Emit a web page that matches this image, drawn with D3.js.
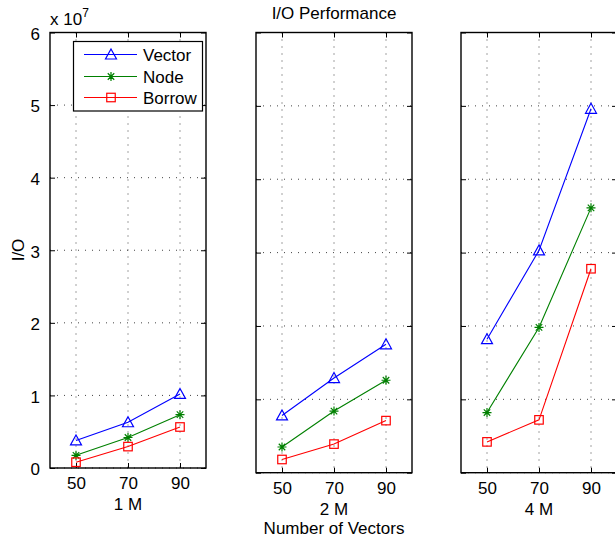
<!DOCTYPE html>
<html><head><meta charset="utf-8">
<script src="https://cdn.jsdelivr.net/npm/d3@7"></script>
<style>
body{margin:0;background:#fff;}
svg{display:block;font-family:"Liberation Sans",Arial,Helvetica,sans-serif;}
</style></head>
<body>
<svg id="c" width="615" height="538"></svg>
<script>
// Data (I/O in units of 10^7)
const xValues = [50, 70, 90];
const xTicks = [50, 70, 90];
const yTicks = [0, 1, 2, 3, 4, 5, 6];
const panelLabels = ["1 M", "2 M", "4 M"];
const seriesNames = ["Vector", "Node", "Borrow"];
const vector1M = [0.38, 0.63, 1.02];
const node1M   = [0.175, 0.42, 0.735];
const borrow1M = [0.08, 0.295, 0.565];
const vector2M = [0.78, 1.29, 1.75];
const node2M   = [0.35, 0.84, 1.26];
const borrow2M = [0.18, 0.39, 0.71];
const vector4M = [1.82, 3.03, 4.96];
const node4M   = [0.82, 1.98, 3.61];
const borrow4M = [0.42, 0.72, 2.78];

const panelData = [
  [vector1M, node1M, borrow1M],
  [vector2M, node2M, borrow2M],
  [vector4M, node4M, borrow4M]
];
const colors = ["#0000ff", "#008000", "#ff0000"];
const markers = ["tri", "star", "sq"];

const panels = [
  {l: 50,  r: 206, t: 32.5, b: 468},
  {l: 256, r: 412, t: 32.5, b: 472.7},
  {l: 461, r: 617, t: 32.5, b: 472.7}
];

const svg = d3.select("#c");
const FS = 17;

function drawMarker(g, type, x, y, color) {
  if (type === "tri") {
    const h = 10, w = 11;
    g.append("path").attr("d", `M${x},${y - h/2 - 0.5}L${x + w/2},${y + h/2 - 0.5}L${x - w/2},${y + h/2 - 0.5}Z`)
      .attr("fill", "none").attr("stroke", color).attr("stroke-width", 1.2);
  } else if (type === "sq") {
    const s = 8.5;
    g.append("rect").attr("x", x - s/2).attr("y", y - s/2).attr("width", s).attr("height", s)
      .attr("fill", "none").attr("stroke", color).attr("stroke-width", 1.2);
  } else {
    const r = 4.5, d = r * 0.72;
    g.append("path").attr("d",
      `M${x - r},${y}L${x + r},${y}M${x},${y - r}L${x},${y + r}M${x - d},${y - d}L${x + d},${y + d}M${x - d},${y + d}L${x + d},${y - d}`)
      .attr("stroke", color).attr("stroke-width", 1.2);
  }
}

panels.forEach((p, i) => {
  const x = d3.scaleLinear().domain([40, 100]).range([p.l, p.r]);
  const y = d3.scaleLinear().domain([0, 6]).range([p.b, p.t]);
  const g = svg.append("g");

  // grid
  const grid = g.append("g").attr("stroke", "#444").attr("stroke-width", 1).attr("stroke-dasharray", "1,6");
  xTicks.forEach(v => grid.append("line").attr("x1", x(v)).attr("x2", x(v)).attr("y1", p.t).attr("y2", p.b));
  yTicks.forEach(v => grid.append("line").attr("x1", p.l).attr("x2", p.r).attr("y1", y(v)).attr("y2", y(v)));

  // axes with inward ticks
  const axB = d3.axisBottom(x).tickValues(xTicks).tickSizeInner(-5).tickSizeOuter(0).tickPadding(9);
  const gb = g.append("g").attr("transform", `translate(0,${p.b})`).call(axB);
  gb.select(".domain").remove();
  gb.selectAll("text").attr("font-size", FS).attr("font-family", null).attr("fill", "#000");
  gb.selectAll("line").attr("stroke", "#000");

  const axT = d3.axisTop(x).tickValues(xTicks).tickSizeInner(-5).tickSizeOuter(0).tickFormat("");
  const gt = g.append("g").attr("transform", `translate(0,${p.t})`).call(axT);
  gt.select(".domain").remove();

  const axL = d3.axisLeft(y).tickValues(yTicks).tickSizeInner(-5).tickSizeOuter(0).tickPadding(10)
    .tickFormat(i === 0 ? d3.format("d") : "");
  const gl = g.append("g").attr("transform", `translate(${p.l},0)`).call(axL);
  gl.select(".domain").remove();
  gl.selectAll("text").attr("font-size", FS).attr("font-family", null).attr("fill", "#000").attr("dy", "0.4em");

  const axR = d3.axisRight(y).tickValues(yTicks).tickSizeInner(-5).tickSizeOuter(0).tickFormat("");
  const gr = g.append("g").attr("transform", `translate(${p.r},0)`).call(axR);
  gr.select(".domain").remove();

  // box
  g.append("rect").attr("x", p.l).attr("y", p.t).attr("width", p.r - p.l).attr("height", p.b - p.t)
    .attr("fill", "none").attr("stroke", "#000").attr("stroke-width", 1.4);

  // series
  panelData[i].forEach((vals, s) => {
    const line = d3.line().x((d, k) => x(xValues[k])).y(d => y(d));
    g.append("path").datum(vals).attr("d", line).attr("fill", "none")
      .attr("stroke", colors[s]).attr("stroke-width", 1.1);
    vals.forEach((v, k) => drawMarker(g, markers[s], x(xValues[k]), y(v), colors[s]));
  });

  // panel label
  g.append("text").attr("x", x(70)).attr("y", p.b + 42).attr("text-anchor", "middle")
    .attr("font-size", FS).text(panelLabels[i]);
});

// y-axis label, exponent
svg.append("text").attr("transform", "translate(24,250) rotate(-90)").attr("text-anchor", "middle")
  .attr("font-size", FS).text("I/O");
const ex = svg.append("text").attr("x", 50).attr("y", 25).attr("font-size", FS);
ex.append("tspan").text("x 10");
ex.append("tspan").attr("font-size", 12).attr("dy", -8).text("7");

// title & x label
svg.append("text").attr("x", 334).attr("y", 19).attr("text-anchor", "middle").attr("font-size", FS).text("I/O Performance");
svg.append("text").attr("x", 334).attr("y", 534).attr("text-anchor", "middle").attr("font-size", FS).text("Number of Vectors");

// legend
const lg = svg.append("g");
lg.append("rect").attr("x", 73.5).attr("y", 41.5).attr("width", 129).attr("height", 69.5)
  .attr("fill", "#fff").attr("stroke", "#000").attr("stroke-width", 1.2);
const ly = [54.5, 76.5, 97.5];
seriesNames.forEach((n, s) => {
  lg.append("line").attr("x1", 84).attr("x2", 137).attr("y1", ly[s]).attr("y2", ly[s])
    .attr("stroke", colors[s]).attr("stroke-width", 1.1);
  drawMarker(lg, markers[s], 111, ly[s], colors[s]);
  lg.append("text").attr("x", 143).attr("y", ly[s] + 6).attr("font-size", FS).text(n);
});
</script>
</body></html>
